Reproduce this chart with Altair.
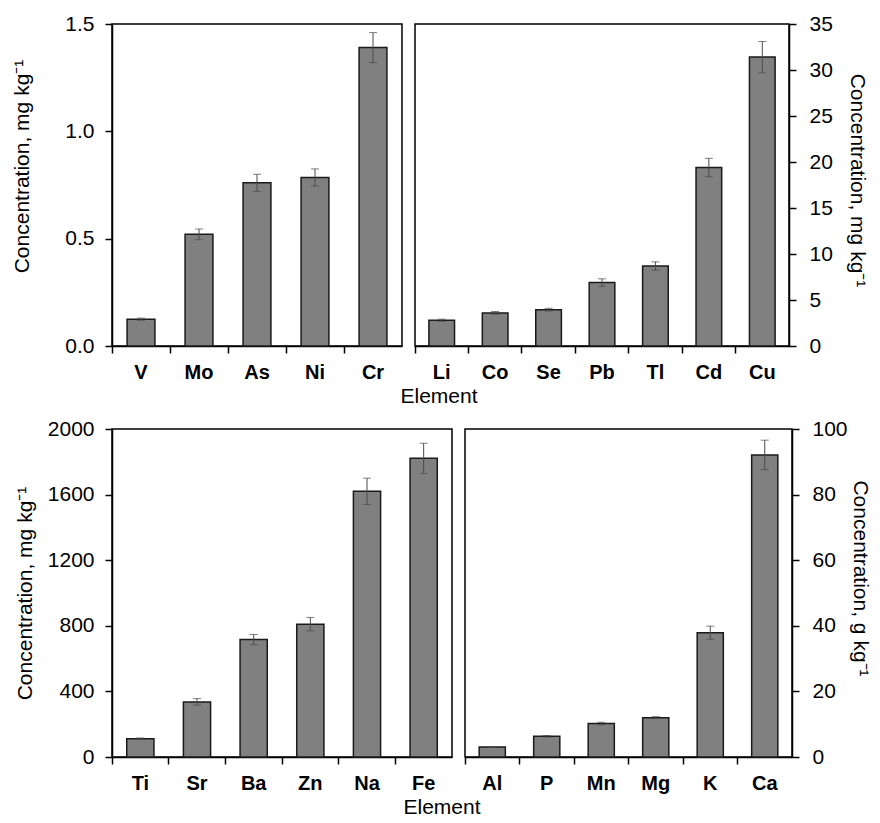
import altair as alt
import pandas as pd

FONT = "Liberation Sans"

# Top-left panel (mg/kg)
p1_el = ["V", "Mo", "As", "Ni", "Cr"]
p1_val = [0.125, 0.52, 0.76, 0.785, 1.39]
p1_err = [0.005, 0.025, 0.04, 0.04, 0.07]

# Top-right panel (mg/kg)
p2_el = ["Li", "Co", "Se", "Pb", "Tl", "Cd", "Cu"]
p2_val = [2.8, 3.6, 3.95, 6.9, 8.7, 19.4, 31.4]
p2_err = [0.12, 0.15, 0.15, 0.4, 0.45, 1.0, 1.7]

# Bottom-left panel (mg/kg)
p3_el = ["Ti", "Sr", "Ba", "Zn", "Na", "Fe"]
p3_val = [112, 336, 716, 810, 1620, 1821]
p3_err = [4, 20, 31, 41, 80, 92]

# Bottom-right panel (g/kg)
p4_el = ["Al", "P", "Mn", "Mg", "K", "Ca"]
p4_val = [3.05, 6.3, 10.2, 12.0, 37.9, 92.1]
p4_err = [0.15, 0.25, 0.4, 0.3, 2.0, 4.5]

Y_TITLE_MG = "Concentration, mg kg⁻¹"
Y_TITLE_G = "Concentration, g kg⁻¹"


def panel(els, vals, errs, ymax, yvals, fmt, title, side, w, h, tx, ty):
    df = pd.DataFrame({
        "Element": els,
        "Value": vals,
        "lo": [v - e for v, e in zip(vals, errs)],
        "hi": [v + e for v, e in zip(vals, errs)],
    })
    xaxis = alt.Axis(
        title=None, bandPosition=0, labelAngle=0, labelFont=FONT,
        labelFontSize=20, labelFontWeight="bold", labelColor="black",
        tickSize=7, tickColor="black", tickWidth=1.5, domainColor="black",
        domainWidth=1.5, labelPadding=9, grid=False,
    )
    x = alt.X("Element:N", sort=els,
              scale=alt.Scale(paddingInner=0, paddingOuter=0), axis=xaxis)
    yscale = alt.Scale(domain=[0, ymax], nice=False, zero=True)
    yaxis = alt.Axis(
        orient=side, values=yvals, format=fmt, title=title, grid=False,
        labelFont=FONT, labelFontSize=21, labelColor="black",
        labelPadding=11 if side == "left" else 13,
        tickSize=7, tickColor="black", tickWidth=1.5,
        domainColor="black", domainWidth=1.5,
        titleFont=FONT, titleFontSize=21, titleFontWeight="normal",
        titleColor="black", titleX=tx, titleY=ty,
    )
    base = alt.Chart(df)
    bars = base.mark_bar(
        width=alt.RelativeBandSize(0.48), color="#808080",
        stroke="#1a1a1a", strokeWidth=1.5,
    ).encode(x=x, y=alt.Y("Value:Q", scale=yscale, axis=yaxis))
    rules = base.mark_rule(color="#4a4a4a", strokeWidth=1).encode(
        x=x, y=alt.Y("lo:Q", scale=yscale, axis=yaxis), y2="hi:Q")
    cap_hi = base.mark_tick(color="#4a4a4a", size=8, thickness=1).encode(
        x=x, y=alt.Y("hi:Q", scale=yscale, axis=yaxis))
    cap_lo = base.mark_tick(color="#4a4a4a", size=8, thickness=1).encode(
        x=x, y=alt.Y("lo:Q", scale=yscale, axis=yaxis))
    return alt.layer(bars, rules, cap_hi, cap_lo).properties(width=w, height=h)


c1 = panel(p1_el, p1_val, p1_err, 1.5, [0, 0.5, 1.0, 1.5], ".1f",
           Y_TITLE_MG, "left", 290, 322, -80, 142)
c2 = panel(p2_el, p2_val, p2_err, 35, list(range(0, 40, 5)), "d",
           Y_TITLE_MG, "right", 374, 322, 57, 156)
c3 = panel(p3_el, p3_val, p3_err, 2000, list(range(0, 2400, 400)), "d",
           Y_TITLE_MG, "left", 340, 328, -77, 164)
c4 = panel(p4_el, p4_val, p4_err, 100, list(range(0, 120, 20)), "d",
           Y_TITLE_G, "right", 327, 328, 57, 149)

elem_title = alt.TitleParams("Element", orient="bottom", anchor="middle",
                             font=FONT, fontSize=21, fontWeight="normal",
                             color="black", offset=3)

row1 = alt.hconcat(c1, c2, spacing=10).properties(title=elem_title)
row2 = alt.hconcat(c3, c4, spacing=10).properties(title=elem_title)

chart = alt.vconcat(row1, row2, spacing=10).properties(
    padding={"left": 2, "top": 4, "right": 0, "bottom": 0},
    background="white",
).configure_view(stroke="black", strokeWidth=1.5)

chart.save("out.html", embed_options={"renderer": "svg", "actions": False})
